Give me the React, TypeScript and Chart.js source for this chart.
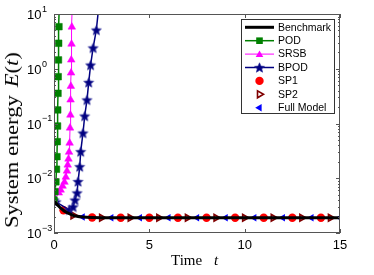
import React, { useEffect, useRef } from 'react';
import { Chart, registerables } from 'chart.js';
Chart.register(...registerables);

// ---- data ----
const xTickValues = [0, 5, 10, 15];
const yTickValues = [0.001, 0.01, 0.1, 1, 10];
const yTickBase = '10';
const yTickExponents = ['−3', '−2', '−1', '0', '1'];

const benchT = [0, 0.1, 0.2, 0.3, 0.4, 0.5, 0.6, 0.8, 1.0, 1.2, 1.5, 2.0, 3.0, 15];
const benchE = [0.0039, 0.0035, 0.0032, 0.00295, 0.00275, 0.00258, 0.00245, 0.00225, 0.0021, 0.00202, 0.00196, 0.00192, 0.0019, 0.0019];

const podT = [0, 0.05, 0.1, 0.13, 0.155, 0.17, 0.185, 0.195, 0.21, 0.22, 0.235, 0.245, 0.26, 0.28];
const podE = [0.004, 0.0057, 0.0086, 0.0146, 0.0248, 0.0466, 0.09, 0.177, 0.356, 0.716, 1.45, 2.92, 5.86, 14];

const srsbT = [0, 0.25, 0.35, 0.45, 0.55, 0.62, 0.68, 0.72, 0.76, 0.79, 0.82, 0.84, 0.86, 0.87, 0.885, 0.895, 0.905, 0.92, 0.935, 0.96];
const srsbE = [0.004, 0.0054, 0.0061, 0.0072, 0.0085, 0.0105, 0.0136, 0.0175, 0.0225, 0.03, 0.044, 0.083, 0.143, 0.27, 0.48, 0.84, 1.45, 2.83, 5.8, 14.6];

const bpodT = [0, 0.1, 0.8, 1.0, 1.1, 1.21, 1.26, 1.35, 1.4, 1.52, 1.61, 1.73, 1.82, 1.92, 2.05, 2.22, 2.32];
const bpodE = [0.004, 0.0037, 0.00265, 0.003, 0.004, 0.0054, 0.0087, 0.0163, 0.0306, 0.067, 0.137, 0.27, 0.565, 1.17, 2.4, 5.1, 11];

const sp1T = [0.5, 2, 3.5, 5, 6.5, 8, 9.5, 11, 12.5, 14];
const sp1E = [0.0026, 0.00192, 0.0019, 0.0019, 0.0019, 0.0019, 0.0019, 0.0019, 0.0019, 0.0019];

const sp2T = [1, 2.5, 4, 5.5, 7, 8.5, 10, 11.5, 13, 14.5];
const sp2E = [0.0021, 0.0019, 0.0019, 0.0019, 0.0019, 0.0019, 0.0019, 0.0019, 0.0019, 0.0019];

const fullT = [0, 1.5, 3, 4.5, 6, 7.5, 9, 10.5, 12, 13.5, 15];
const fullE = [0.004, 0.00196, 0.0019, 0.0019, 0.0019, 0.0019, 0.0019, 0.0019, 0.0019, 0.0019, 0.0019];

const seriesNames = ['Benchmark', 'POD', 'SRSB', 'BPOD', 'SP1', 'SP2', 'Full Model'];

const GREEN = '#008000';
const MAGENTA = '#FF00FF';
const NAVY = '#000080';
const RED = '#FF0000';
const DARKRED = '#800000';
const BLUE = '#0000FF';

const pts = (t: number[], e: number[]) => t.map((v, i) => ({ x: v, y: e[i] }));

function makeStar(r: number, color: string) {
  const size = Math.ceil(r * 2) + 2;
  const c = document.createElement('canvas');
  c.width = size;
  c.height = size;
  const ctx = c.getContext('2d')!;
  ctx.translate(size / 2, size / 2 + 0.5);
  ctx.beginPath();
  for (let i = 0; i < 10; i++) {
    const ang = -Math.PI / 2 + (i * Math.PI) / 5;
    const rr = i % 2 === 0 ? r : r * 0.45;
    ctx.lineTo(Math.cos(ang) * rr, Math.sin(ang) * rr);
  }
  ctx.closePath();
  ctx.fillStyle = color;
  ctx.fill();
  ctx.strokeStyle = '#2a2a9a';
  ctx.lineWidth = 0.7;
  ctx.stroke();
  return c;
}

const hideAbove = (r: number) => (ctx: any) => (ctx.raw && ctx.raw.y > 10 ? 0 : r);

function drawTri(ctx: CanvasRenderingContext2D, x: number, y: number, r: number, rotDeg: number) {
  let rad = (rotDeg * Math.PI) / 180;
  ctx.beginPath();
  ctx.moveTo(x + Math.sin(rad) * r, y - Math.cos(rad) * r);
  rad += (2 * Math.PI) / 3;
  ctx.lineTo(x + Math.sin(rad) * r, y - Math.cos(rad) * r);
  rad += (2 * Math.PI) / 3;
  ctx.lineTo(x + Math.sin(rad) * r, y - Math.cos(rad) * r);
  ctx.closePath();
}

export default function App() {
  const ref = useRef<HTMLCanvasElement | null>(null);

  useEffect(() => {
    if (!ref.current) return;
    const star = makeStar(5.2, NAVY);

    const framePlugin = {
      id: 'frameTicks',
      afterDatasetsDraw(chart: any) {
        const { ctx, chartArea } = chart;
        const { left, right, top, bottom } = chartArea;
        const xs = chart.scales.x;
        const ys = chart.scales.y;
        ctx.save();
        ctx.strokeStyle = '#555555';
        ctx.lineWidth = 1;
        ctx.strokeRect(left + 0.5, top + 0.5, right - left - 1, bottom - top - 1);
        ctx.beginPath();
        for (const v of xTickValues) {
          const px = Math.round(xs.getPixelForValue(v)) + 0.5;
          ctx.moveTo(px, bottom);
          ctx.lineTo(px, bottom - 4);
          ctx.moveTo(px, top);
          ctx.lineTo(px, top + 4);
        }
        for (const v of yTickValues) {
          const py = Math.round(ys.getPixelForValue(v)) + 0.5;
          ctx.moveTo(left, py);
          ctx.lineTo(left + 4, py);
          ctx.moveTo(right, py);
          ctx.lineTo(right - 4, py);
        }
        for (let d = -3; d < 1; d++) {
          for (let k = 2; k <= 9; k++) {
            const v = k * Math.pow(10, d);
            const py = Math.round(ys.getPixelForValue(v)) + 0.5;
            ctx.moveTo(left, py);
            ctx.lineTo(left + 2, py);
            ctx.moveTo(right, py);
            ctx.lineTo(right - 2, py);
          }
        }
        ctx.stroke();

        // y tick labels: 10 with raised exponent, positioned from the log scale
        ctx.fillStyle = '#000';
        ctx.textAlign = 'left';
        ctx.textBaseline = 'middle';
        yTickValues.forEach((v, i) => {
          const py = ys.getPixelForValue(v);
          ctx.font = '13px "Liberation Sans", Arial, sans-serif';
          const bx = 27;
          ctx.fillText(yTickBase, bx, py + 1.5);
          const w = ctx.measureText(yTickBase).width;
          ctx.font = '9px "Liberation Sans", Arial, sans-serif';
          ctx.fillText(yTickExponents[i], bx + w + 0.5, py - 4.5);
        });
        ctx.restore();
      },
      afterDraw(chart: any) {
        const { ctx } = chart;
        ctx.save();
        const bx = 241.5, by = 19.5, bw = 93, bh = 94;
        ctx.fillStyle = '#ffffff';
        ctx.fillRect(bx, by, bw, bh);
        ctx.strokeStyle = '#333333';
        ctx.lineWidth = 1;
        ctx.strokeRect(bx, by, bw, bh);
        const x0 = 245, x1 = 274, xm = 259.5, tx = 278;
        const y0 = 27.3, dy = 13.4;
        ctx.font = '10.5px "Liberation Sans", Arial, sans-serif';
        ctx.textBaseline = 'middle';
        ctx.textAlign = 'left';
        seriesNames.forEach((name, i) => {
          const y = y0 + i * dy;
          if (i <= 3) {
            ctx.beginPath();
            ctx.moveTo(x0, y);
            ctx.lineTo(x1, y);
            ctx.strokeStyle = i === 0 ? '#000' : i === 1 ? GREEN : i === 2 ? MAGENTA : NAVY;
            ctx.lineWidth = i === 0 ? 3 : i === 2 ? 1 : 1.5;
            ctx.stroke();
          }
          if (i === 1) {
            ctx.fillStyle = GREEN;
            ctx.fillRect(xm - 3.3, y - 3.3, 6.6, 6.6);
          } else if (i === 2) {
            ctx.fillStyle = MAGENTA;
            drawTri(ctx, xm, y + 0.8, 4.4, 0);
            ctx.fill();
          } else if (i === 3) {
            ctx.drawImage(star, xm - star.width / 2, y - star.height / 2);
          } else if (i === 4) {
            ctx.fillStyle = RED;
            ctx.beginPath();
            ctx.arc(xm, y, 4.2, 0, Math.PI * 2);
            ctx.fill();
          } else if (i === 5) {
            ctx.strokeStyle = DARKRED;
            ctx.lineWidth = 1.6;
            drawTri(ctx, xm, y, 4, 90);
            ctx.stroke();
          } else if (i === 6) {
            ctx.fillStyle = BLUE;
            drawTri(ctx, xm, y, 4.3, -90);
            ctx.fill();
          }
          ctx.fillStyle = '#000';
          ctx.fillText(name, tx, y + 0.5);
        });
        ctx.restore();
      },
    };

    const chart = new Chart(ref.current, {
      type: 'line',
      data: {
        datasets: [
          {
            label: seriesNames[0],
            data: pts(benchT, benchE),
            borderColor: '#000000',
            borderWidth: 3,
            pointRadius: 0,
            cubicInterpolationMode: 'monotone',
          },
          {
            label: seriesNames[1],
            data: pts(podT, podE),
            borderColor: GREEN,
            backgroundColor: GREEN,
            borderWidth: 1.5,
            pointStyle: 'rect',
            pointRadius: hideAbove(4.7),
            pointBorderWidth: 0.5,
          },
          {
            label: seriesNames[2],
            data: pts(srsbT, srsbE),
            borderColor: MAGENTA,
            backgroundColor: MAGENTA,
            borderWidth: 1,
            pointStyle: 'triangle',
            pointRadius: hideAbove(4.4),
            pointBorderWidth: 0.5,
          },
          {
            label: seriesNames[3],
            data: pts(bpodT, bpodE),
            borderColor: NAVY,
            backgroundColor: NAVY,
            borderWidth: 1.5,
            pointStyle: star as any,
            pointRadius: hideAbove(5),
          },
          {
            label: seriesNames[4],
            data: pts(sp1T, sp1E),
            showLine: false,
            borderColor: RED,
            backgroundColor: RED,
            pointStyle: 'circle',
            pointRadius: 4.2,
            pointBorderWidth: 0,
          },
          {
            label: seriesNames[5],
            data: pts(sp2T, sp2E),
            showLine: false,
            borderColor: DARKRED,
            backgroundColor: 'rgba(128,0,0,0.55)',
            pointStyle: 'triangle',
            rotation: 90,
            pointRadius: 4,
            pointBorderWidth: 1.6,
          },
          {
            label: seriesNames[6],
            data: pts(fullT, fullE),
            showLine: false,
            borderColor: BLUE,
            backgroundColor: BLUE,
            pointStyle: 'triangle',
            rotation: -90,
            pointRadius: 4.3,
            pointBorderWidth: 0,
          },
        ] as any,
      },
      options: {
        animation: false,
        responsive: false,
        events: [],
        layout: { padding: { left: 27, right: 34, top: 14, bottom: 0 } },
        plugins: { legend: { display: false }, tooltip: { enabled: false } },
        elements: { line: { tension: 0 } },
        scales: {
          x: {
            type: 'linear',
            min: 0,
            max: 15,
            grid: { display: false, drawTicks: false, tickLength: 0 },
            border: { display: false },
            afterBuildTicks: (s: any) => {
              s.ticks = xTickValues.map((v) => ({ value: v }));
            },
            afterFit: (s: any) => {
              s.height = 42;
            },
            ticks: {
              padding: 5,
              color: '#000',
              font: { family: '"Liberation Sans", Arial, sans-serif', size: 13 },
              maxRotation: 0,
              callback: (v: any) => String(v),
            },
          },
          y: {
            type: 'logarithmic',
            min: 0.001,
            max: 10,
            grid: { display: false, drawTicks: false, tickLength: 0 },
            border: { display: false },
            afterBuildTicks: (s: any) => {
              s.ticks = yTickValues.map((v) => ({ value: v }));
            },
            afterFit: (s: any) => {
              s.width = 27;
            },
            ticks: { display: false },
          },
        },
      } as any,
      plugins: [framePlugin],
    });
    return () => chart.destroy();
  }, []);

  return (
    <div style={{ position: 'fixed', left: 0, top: 0, width: 374, height: 275, background: '#fff' }}>
      <canvas ref={ref} width={374} height={275} style={{ display: 'block' }} />
      <div
        style={{
          position: 'absolute',
          left: 11.5,
          top: 140,
          transform: 'translate(-50%, -50%) rotate(-90deg) scaleX(1.25)',
          fontFamily: '"Liberation Serif", "Times New Roman", serif',
          fontSize: 18,
          lineHeight: 1,
          whiteSpace: 'nowrap',
          color: '#000',
        }}
      >
        System energy <i style={{ marginLeft: 2 }}>E</i>(<i>t</i>)
      </div>
      <div
        style={{
          position: 'absolute',
          left: 171,
          top: 253,
          fontFamily: '"Liberation Serif", "Times New Roman", serif',
          fontSize: 15,
          lineHeight: 1,
          whiteSpace: 'nowrap',
          color: '#000',
        }}
      >
        Time <i style={{ marginLeft: 8 }}>t</i>
      </div>
    </div>
  );
}
